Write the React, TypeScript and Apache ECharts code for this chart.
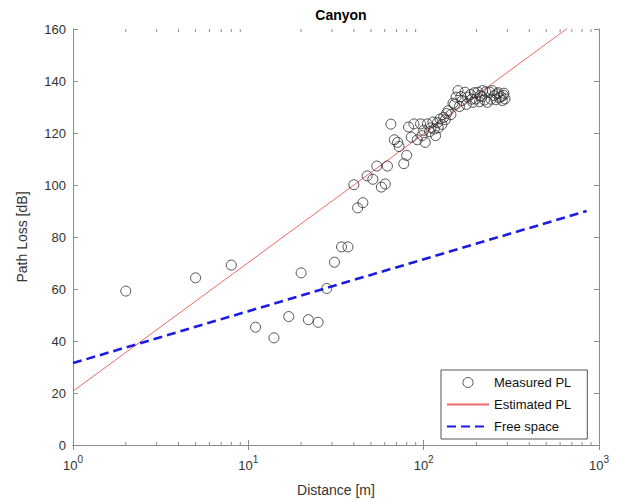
import React, { useEffect, useRef } from "react";
import * as echarts from "echarts";

// Measured path loss (distance in m, PL in dB)
const measuredDistance = [
  2, 5, 8, 11, 14, 17, 20, 22, 25, 28, 31, 34, 37, 40, 42, 45, 47.6, 51.3, 54, 57.4, 60.4, 62.1,
  65, 68, 71, 72.4, 77, 80, 82, 85, 88, 92, 96, 98, 100, 102, 105, 108, 110, 113, 115, 117, 120,
  121, 124, 127, 130, 133, 135, 138, 143, 147, 150, 153, 157, 160, 163, 166, 172, 175, 178, 185,
  188, 191, 195, 198, 204, 208, 210, 215, 217, 222, 226, 231, 238, 242, 246, 253, 258, 262, 266,
  270, 276, 281, 285, 287, 291,
];
const measuredPL = [
  59.2, 64.3, 69.2, 45.3, 41.2, 49.4, 66.2, 48.2, 47.2, 60.2, 70.3, 76.2, 76.2, 100.1, 91.2, 93.2,
  103.5, 102.2, 107.3, 99.2, 100.4, 107.3, 123.4, 117.4, 116.4, 114.8, 108.2, 111.4, 122.3, 118.4,
  123.5, 117.4, 123.5, 119, 121, 116.4, 123.5, 120.5, 122, 124.2, 121.5, 119, 124, 122, 125.4,
  123.3, 126, 125.1, 127.5, 128.6, 127.1, 131.5, 131, 133.8, 136.3, 130.2, 134, 132.5, 135.7, 131,
  133.8, 134.8, 133, 131.8, 135.5, 133.1, 135.7, 132, 134.4, 134, 136.3, 132.7, 135.8, 131.8, 135.7,
  133, 136.3, 134.4, 132.8, 135, 135.5, 133.5, 134, 132.5, 134.5, 135.3, 133.1,
];
// Fitted line endpoints (distance, dB)
const estimatedLine: [number, number][] = [
  [1, 20.7],
  [850, 165.7],
];
// Free-space line endpoints (distance, dB)
const freeSpaceLine: [number, number][] = [
  [1, 31.5],
  [850, 90],
];
const yTicks = [0, 20, 40, 60, 80, 100, 120, 140, 160];
const xDecades = [1, 10, 100, 1000];
const xMinorTicks = [
  2, 3, 4, 5, 6, 7, 8, 9, 20, 30, 40, 50, 60, 70, 80, 90, 200, 300, 400, 500, 600, 700, 800, 900,
];

const FONT = "'Liberation Sans', Arial, Helvetica, sans-serif";
const AXIS_COLOR = "#8c8c8c";
const TEXT_COLOR = "#333";
const RED = "#f06868";
const BLUE = "#1c1ce0";
const HIDDEN_SYMBOL = { color: "rgba(0,0,0,0)", borderWidth: 0, opacity: 0 };

export default function App() {
  const ref = useRef<HTMLDivElement>(null);

  useEffect(() => {
    if (!ref.current) return;
    const chart = echarts.init(ref.current, undefined, { renderer: "svg" });
    const yMin = yTicks[0];
    const yMax = yTicks[yTicks.length - 1];
    const xMin = xDecades[0];
    const xMax = xDecades[xDecades.length - 1];

    const axisCommon = {
      axisLine: { show: true, lineStyle: { color: AXIS_COLOR, width: 1 } },
      axisTick: { show: true, inside: true, length: 5, lineStyle: { color: AXIS_COLOR } },
      splitLine: { show: false },
    };

    chart.setOption({
      animation: false,
      backgroundColor: "#fff",
      textStyle: { fontFamily: FONT },
      title: {
        text: "Canyon",
        left: 336,
        top: 3,
        textAlign: "center",
        textStyle: { fontFamily: FONT, fontSize: 14, fontWeight: "bold", color: "#000" },
      },
      grid: { left: 73, right: 32, top: 29, bottom: 56 },
      legend: {
        orient: "vertical",
        left: 441,
        top: 370,
        padding: [6, 16, 6, 5],
        itemWidth: 42,
        itemHeight: 10,
        itemGap: 9,
        borderColor: "#555",
        borderWidth: 1,
        backgroundColor: "#fff",
        textStyle: { fontFamily: FONT, fontSize: 13, color: "#111" },
        data: [
          { name: "Measured PL", itemStyle: { color: "rgba(0,0,0,0)", borderColor: "#2a2a2a", borderWidth: 1 } },
          { name: "Estimated PL", itemStyle: HIDDEN_SYMBOL },
          { name: "Free space", itemStyle: HIDDEN_SYMBOL },
        ],
      },
      xAxis: [
        {
          type: "log",
          logBase: 10,
          min: xMin,
          max: xMax,
          position: "bottom",
          ...axisCommon,
          axisLabel: {
            color: TEXT_COLOR,
            fontFamily: FONT,
            margin: 9,
            formatter: (v: number) => `{b|10}{s|${Math.round(Math.log10(v))}}`,
            rich: {
              b: { fontSize: 13, color: TEXT_COLOR, fontFamily: FONT, verticalAlign: "bottom", lineHeight: 18 },
              s: { fontSize: 10, color: TEXT_COLOR, fontFamily: FONT, verticalAlign: "top", lineHeight: 18 },
            },
          },
          name: "Distance [m]",
          nameLocation: "middle",
          nameGap: 38,
          nameTextStyle: { fontFamily: FONT, fontSize: 14, color: TEXT_COLOR },
        },
        {
          type: "log",
          logBase: 10,
          min: xMin,
          max: xMax,
          position: "top",
          ...axisCommon,
          axisLabel: { show: false },
        },
      ],
      yAxis: [
        {
          type: "value",
          min: yMin,
          max: yMax,
          interval: 20,
          position: "left",
          ...axisCommon,
          axisLabel: { color: TEXT_COLOR, fontFamily: FONT, fontSize: 13, margin: 7 },
          name: "Path Loss [dB]",
          nameLocation: "middle",
          nameGap: 44,
          nameTextStyle: { fontFamily: FONT, fontSize: 14, color: TEXT_COLOR },
        },
        {
          type: "value",
          min: yMin,
          max: yMax,
          interval: 20,
          position: "right",
          ...axisCommon,
          axisLabel: { show: false },
        },
      ],
      series: [
        {
          name: "minorTicks",
          type: "custom",
          silent: true,
          xAxisIndex: 0,
          yAxisIndex: 0,
          clip: false,
          data: xMinorTicks.map((v) => [v, yMin]),
          renderItem: (_params: any, api: any) => {
            const v = api.value(0);
            const b = api.coord([v, yMin]);
            const t = api.coord([v, yMax]);
            return {
              type: "group",
              children: [
                { type: "line", shape: { x1: b[0], y1: b[1], x2: b[0], y2: b[1] - 3 }, style: { stroke: AXIS_COLOR, lineWidth: 1 } },
                { type: "line", shape: { x1: t[0], y1: t[1], x2: t[0], y2: t[1] + 3 }, style: { stroke: AXIS_COLOR, lineWidth: 1 } },
              ],
            };
          },
        },
        {
          name: "Measured PL",
          type: "scatter",
          symbol: "circle",
          symbolSize: 10,
          itemStyle: { color: "rgba(0,0,0,0)", borderColor: "#2a2a2a", borderWidth: 1 },
          data: measuredDistance.map((d, i) => [d, measuredPL[i]]),
          z: 3,
        },
        {
          name: "Estimated PL",
          type: "line",
          symbol: "none",
          clip: true,
          lineStyle: { color: RED, width: 1 },
          itemStyle: { color: RED },
          data: estimatedLine,
          z: 2,
        },
        {
          name: "Free space",
          type: "line",
          symbol: "none",
          clip: true,
          lineStyle: { color: BLUE, width: 2.6, type: [9, 5] },
          itemStyle: { color: BLUE },
          data: freeSpaceLine,
          z: 2,
        },
      ],
    });
    return () => chart.dispose();
  }, []);

  return (
    <div
      ref={ref}
      style={{ position: "fixed", left: 0, top: 0, width: 631, height: 502, background: "#fff" }}
    />
  );
}
